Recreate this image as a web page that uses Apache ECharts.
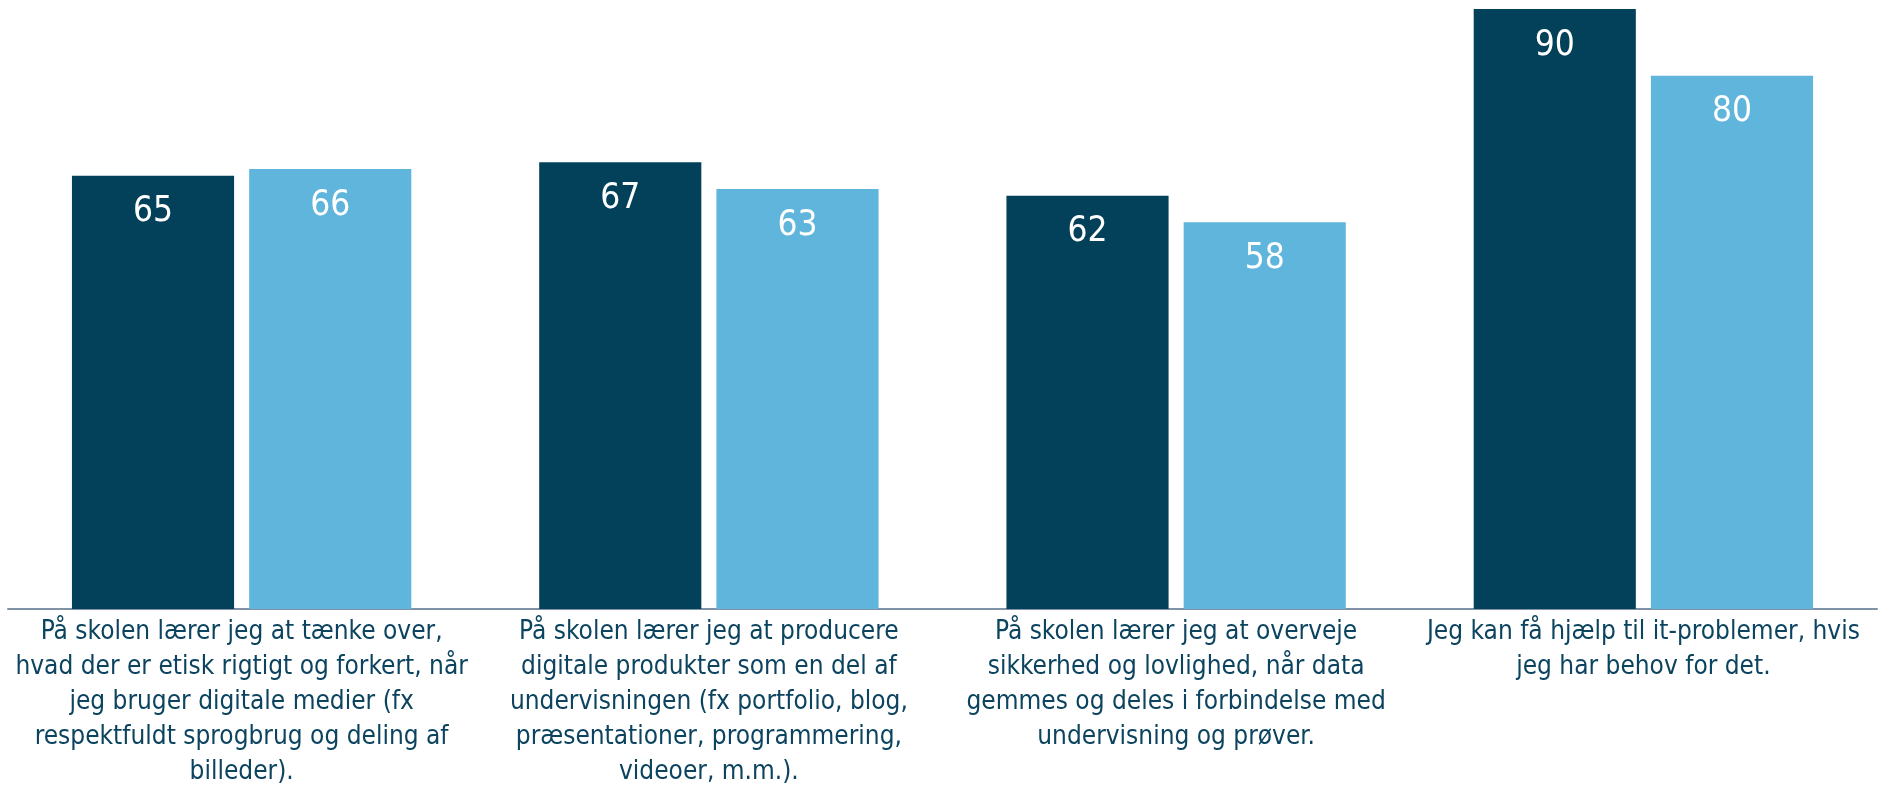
<!DOCTYPE html>
<html>
<head>
<meta charset="utf-8">
<script src="https://cdn.jsdelivr.net/npm/echarts@6/dist/echarts.min.js"></script>
<style>
html,body{margin:0;padding:0;background:#fff;}
#chart{width:1878px;height:790px;}
</style>
</head>
<body>
<div id="chart"></div>
<script>
const categories = [
  "På skolen lærer jeg at tænke over,\nhvad der er etisk rigtigt og forkert, når\njeg bruger digitale medier (fx\nrespektfuldt sprogbrug og deling af\nbilleder).",
  "På skolen lærer jeg at producere\ndigitale produkter som en del af\nundervisningen (fx portfolio, blog,\npræsentationer, programmering,\nvideoer, m.m.).",
  "På skolen lærer jeg at overveje\nsikkerhed og lovlighed, når data\ngemmes og deles i forbindelse med\nundervisning og prøver.",
  "Jeg kan få hjælp til it-problemer, hvis\njeg har behov for det."
];
const seriesA = [65, 67, 62, 90];
const seriesB = [66, 63, 58, 80];

const chart = echarts.init(document.getElementById('chart'), null, {renderer: 'canvas'});
const labelStyle = {
  show: true,
  position: 'insideTop',
  distance: 19,
  color: '#ffffff',
  fontSize: 35,
  fontFamily: 'Liberation Sans Narrow, DejaVu Sans Condensed, sans-serif'
};
chart.setOption({
  animation: false,
  grid: {left: 8, right: 1, top: 9, bottom: 177, containLabel: false},
  xAxis: {
    type: 'category',
    data: categories,
    axisLine: {show: true, lineStyle: {color: '#8292a6', width: 2}},
    axisTick: {show: false},
    axisLabel: {
      interval: 0,
      margin: 6,
      color: '#0c4460',
      fontSize: 26,
      lineHeight: 35,
      fontFamily: 'DejaVu Sans Condensed, DejaVu Sans, sans-serif',
      align: 'center'
    }
  },
  yAxis: {
    type: 'value',
    min: 0,
    max: 90,
    show: false,
    splitLine: {show: false}
  },
  series: [
    {
      type: 'bar',
      data: seriesA,
      barWidth: '34.7%',
      barGap: '9.3%',
      itemStyle: {color: '#03405a'},
      label: labelStyle
    },
    {
      type: 'bar',
      data: seriesB,
      barWidth: '34.7%',
      itemStyle: {color: '#5fb5db'},
      label: labelStyle
    }
  ]
});
</script>
</body>
</html>
